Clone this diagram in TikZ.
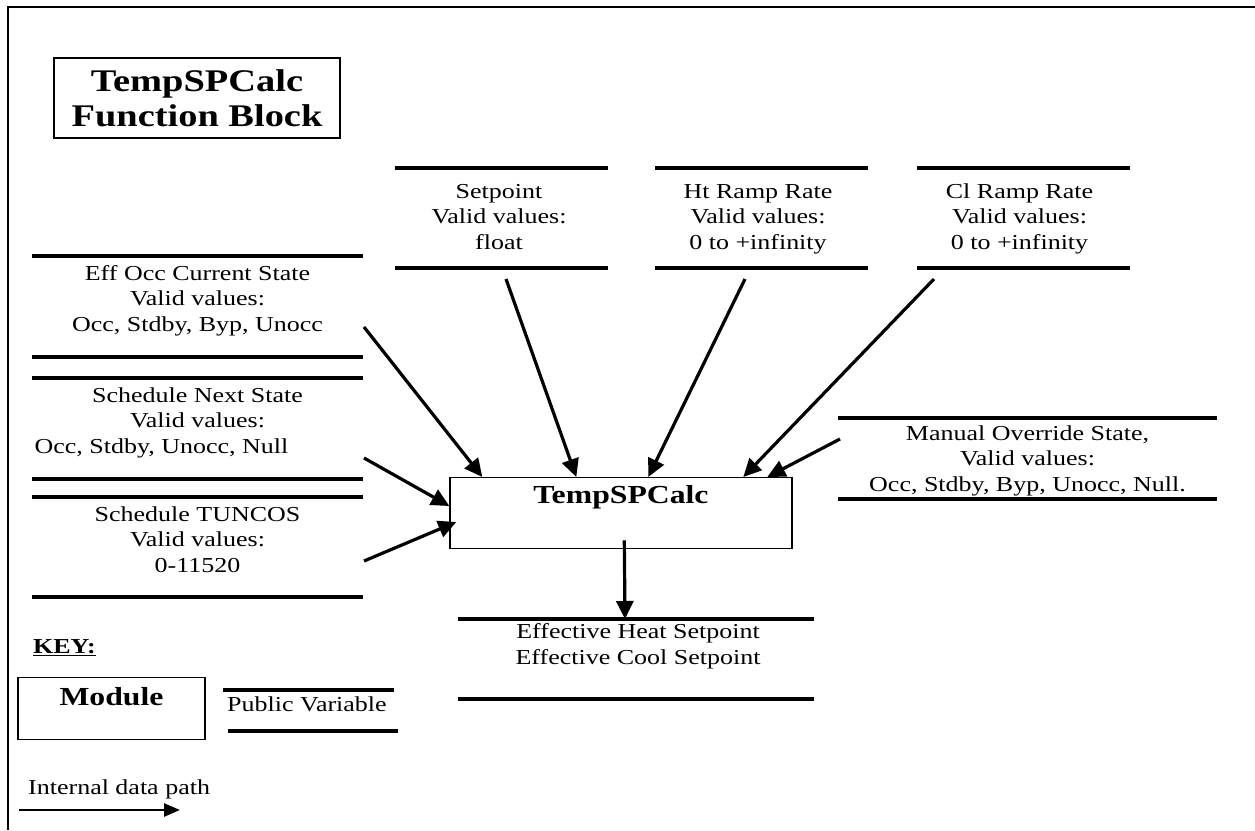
\documentclass[tikz,border=0pt]{standalone}
\usepackage{fontspec}
\setmainfont{Liberation Serif}[FakeStretch=1.22]
\usetikzlibrary{arrows.meta,calc}
\newcommand\fsnorm{\fontsize{21.3pt}{25.5pt}\selectfont}
\newcommand\fsbig{\fontsize{26pt}{30pt}\selectfont\bfseries}
\newcommand\fstitle{\fontsize{31.5pt}{35pt}\selectfont\bfseries}
\begin{document}
\begin{tikzpicture}[x=1pt,y=-1pt,
  pvline/.style={line width=3.3pt},
  flow/.style={line width=3.2pt,-{Triangle[length=18pt,width=17pt]}},
  vtext/.style={align=center,anchor=base,inner sep=0pt,font=\fsnorm},
  ltext/.style={anchor=base west,inner sep=0pt,font=\fsnorm},
  modbox/.style={draw,line width=1.4pt,inner xsep=0pt,inner ysep=0pt}]
\useasboundingbox (0,0) rectangle (1255,830);
% frame
\draw[line width=2.5pt] (8,830) -- (8,7) -- (1255,7);
% title
\node[modbox,minimum width=286pt,minimum height=80pt,align=center,font=\fstitle] (title) at (197,98) {TempSPCalc\\Function Block};
% main module
\node[modbox,anchor=north,minimum width=342pt,text height=26pt,text depth=45pt,font=\fsbig] (calc) at (621,477) {TempSPCalc};
% public variables: texts (base anchor = last line baseline)
\node[vtext] (setp) at (499,249) {Setpoint\\Valid values:\\float};
\node[vtext] (htramp) at (758,249) {Ht Ramp Rate\\Valid values:\\0 to +infinity};
\node[vtext] (clramp) at (1019.5,249) {Cl Ramp Rate\\Valid values:\\0 to +infinity};
\node[vtext] (effocc) at (197.5,331) {Eff Occ Current State\\Valid values:\\Occ, Stdby, Byp, Unocc};
\node[vtext] (schnext) at (197.5,453) {Schedule Next State\\Valid values:\\Occ, Stdby, Unocc, Null\hspace*{72pt}};
\node[vtext] (tuncos) at (197.5,572) {Schedule TUNCOS\\Valid values:\\0-11520};
\node[vtext] (manov) at (1027.5,491) {Manual Override State,\\Valid values:\\Occ, Stdby, Byp, Unocc, Null.};
\node[vtext] (effout) at (638,664) {Effective Heat Setpoint\\Effective Cool Setpoint};
% public variable lines
\foreach \xa/\xb in {395/608,655/868,917/1130}{
  \draw[pvline] (\xa,168) -- (\xb,168);
  \draw[pvline] (\xa,268) -- (\xb,268);}
\foreach \ya in {256,357,378,479,497,597}{
  \draw[pvline] (32,\ya) -- (363,\ya);}
\draw[pvline] (838,418) -- (1217,418);
\draw[pvline] (838,499) -- (1217,499);
\draw[pvline] (458,619) -- (814,619);
\draw[pvline] (458,699) -- (814,699);
% connector tails
\coordinate (effocc-t) at (364,327);
\coordinate (setp-t) at (506,279);
\coordinate (htramp-t) at (745,279);
\coordinate (clramp-t) at (934,279);
\coordinate (manov-t) at (840,439);
\coordinate (schnext-t) at (364,458);
\coordinate (tuncos-t) at (364,561);
\coordinate (effout-h) at (625,619);
% connectors
\draw[flow] (effocc-t) -- ($(calc.north west)+(33,0)$);
\draw[flow] (setp-t) -- ($(calc.north west)+(127,0)$);
\draw[flow] (htramp-t) -- ($(calc.north west)+(199,0)$);
\draw[flow] (clramp-t) -- ($(calc.north west)+(294,0)$);
\draw[flow] (manov-t) -- ($(calc.north west)+(318,0)$);
\draw[flow] (schnext-t) -- ($(calc.north west)+(0,29)$);
\draw[flow] (tuncos-t) -- ($(calc.north west)+(7,45)$);
\draw[flow] ($(calc.south west)+(175,-9)$) -- (effout-h);
% key
\node[ltext,font=\fsnorm\bfseries] (key) at (33,653) {\underline{KEY:}};
\node[modbox,anchor=north,minimum width=187pt,text height=28pt,text depth=34pt,font=\fsbig] (keymod) at (111.5,677) {Module};
\node[ltext] (pubvar) at (227,711) {Public Variable};
\draw[pvline] (223,690) -- (394,690);
\draw[pvline] (228,731) -- (398,731);
\node[ltext] (datapath) at (28,794) {Internal data path};
\coordinate (dp-a) at (19,810);
\coordinate (dp-b) at (180,810);
\draw[line width=2.7pt,-{Triangle[length=16pt,width=13pt]}] (dp-a) -- (dp-b);
\end{tikzpicture}
\end{document}
